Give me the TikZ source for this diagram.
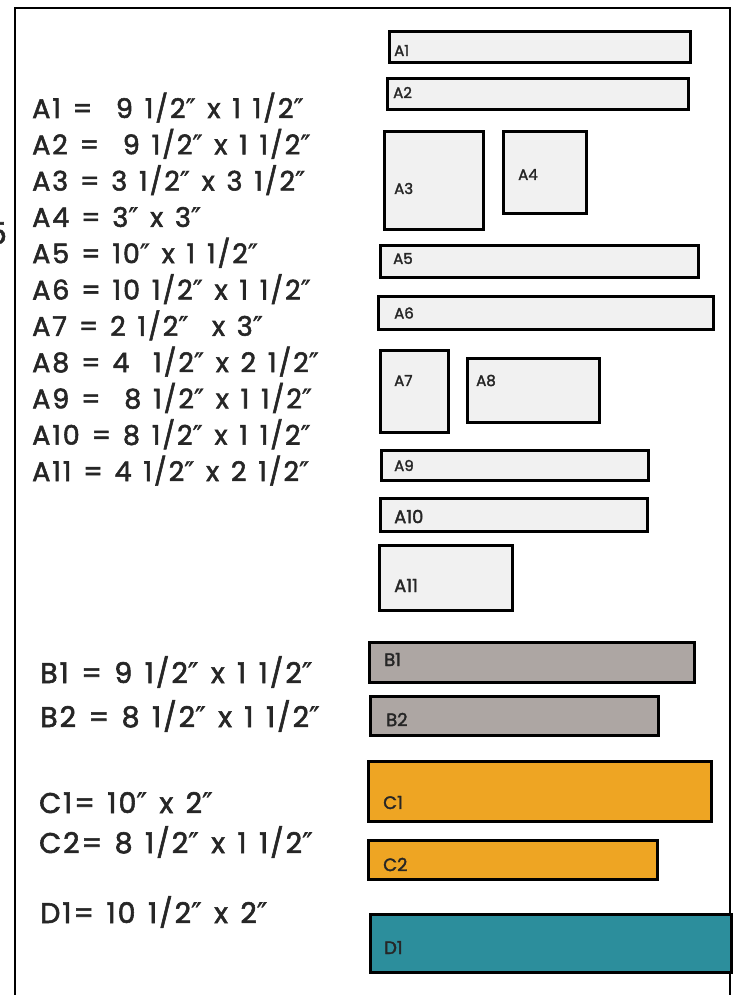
\documentclass[tikz,border=0pt]{standalone}
\usepackage{fontspec}
\setmainfont{Poppins}
\newfontfamily\specfont{Poppins}[LetterSpace=7, WordSpace=1.3, FakeBold=2]
\newfontfamily\tagfont{Poppins}[FakeBold=2]
\newfontfamily\primefont{DejaVu Sans}[FakeBold=1]
\newcommand\inch{{\primefont ″}}
\usetikzlibrary{positioning}

\definecolor{paleA}{HTML}{F1F1F1}
\definecolor{greyB}{HTML}{ADA6A3}
\definecolor{orangeC}{HTML}{EEA523}
\definecolor{tealD}{HTML}{2C8E9C}

\begin{document}
\begin{tikzpicture}[
    x=1pt, y=-1pt,
    node distance=6pt,
    piece/.style={draw, line width=3pt, inner sep=0pt, anchor=north west},
    pieceA/.style={piece, fill=paleA},
    pieceB/.style={piece, fill=greyB},
    pieceC/.style={piece, fill=orangeC},
    pieceD/.style={piece, fill=tealD},
    tag/.style={inner sep=0pt, font=\tagfont\fontsize{15}{15}\selectfont, text=black!85},
    bigtag/.style={tag, font=\tagfont\fontsize{18}{18}\selectfont},
    spec/.style={inner sep=0pt, anchor=base west, font=\specfont\fontsize{27}{27}\selectfont, text=black!85},
    bigspec/.style={spec, font=\specfont\fontsize{28.5}{28.5}\selectfont},
]
\useasboundingbox (0,0) rectangle (736,995);

% --- frame ---
\draw[line width=2pt] (15,995) -- (15,8) -- (730,8) -- (730,995);
\node[spec, anchor=base east, font=\specfont\fontsize{30}{30}\selectfont] (cut) at (7,244) {5};

% --- A list ---
\node[spec] (a1-spec)  at (32,118)   {A1 =\ \ 9 1/2\inch{} x 1 1/2\inch};
\node[spec] (a2-spec)  at (32,154.3) {A2 =\ \ 9 1/2\inch{} x 1 1/2\inch};
\node[spec] (a3-spec)  at (32,190.6) {A3 = 3 1/2\inch{} x 3 1/2\inch};
\node[spec] (a4-spec)  at (32,226.9) {A4 = 3\inch{} x 3\inch};
\node[spec] (a5-spec)  at (32,263.2) {A5 = 10\inch{} x 1 1/2\inch};
\node[spec] (a6-spec)  at (32,299.5) {A6 = 10 1/2\inch{} x 1 1/2\inch};
\node[spec] (a7-spec)  at (32,335.8) {A7 = 2 1/2\inch\ \ x 3\inch};
\node[spec] (a8-spec)  at (32,372.1) {A8 = 4\ \ 1/2\inch{} x 2 1/2\inch};
\node[spec] (a9-spec)  at (32,408.4) {A9 =\ \ 8 1/2\inch{} x 1 1/2\inch};
\node[spec] (a10-spec) at (32,444.7) {A10 = 8 1/2\inch{} x 1 1/2\inch};
\node[spec] (a11-spec) at (32,481)   {A11 = 4 1/2\inch{} x 2 1/2\inch};

% --- B, C, D list ---
\node[bigspec] (b1-spec) at (40,683) {B1 = 9 1/2\inch{} x 1 1/2\inch};
\node[bigspec] (b2-spec) at (40,727) {B2 = 8 1/2\inch{} x 1 1/2\inch};
\node[bigspec] (c1-spec) at (39,813) {C1= 10\inch{} x 2\inch};
\node[bigspec] (c2-spec) at (39,853) {C2= 8 1/2\inch{} x 1 1/2\inch};
\node[bigspec] (d1-spec) at (40,923) {D1= 10 1/2\inch{} x 2\inch};

% --- A pieces ---
\node[pieceA, minimum width=301, minimum height=31] (a1)  at (388,30)  {};
\node[pieceA, minimum width=301, minimum height=31] (a2)  at (386,77)  {};
\node[pieceA, minimum width=99,  minimum height=98] (a3)  at (383,130) {};
\node[pieceA, minimum width=83,  minimum height=82] (a4)  at (502,130) {};
\node[pieceA, minimum width=318, minimum height=32] (a5)  at (379,244) {};
\node[pieceA, minimum width=335, minimum height=33] (a6)  at (377,295) {};
\node[pieceA, minimum width=68,  minimum height=82] (a7)  at (379,349) {};
\node[pieceA, minimum width=132, minimum height=64] (a8)  at (466,357) {};
\node[pieceA, minimum width=267, minimum height=30] (a9)  at (380,449) {};
\node[pieceA, minimum width=267, minimum height=33] (a10) at (379,497) {};
\node[pieceA, minimum width=133, minimum height=65] (a11) at (378,544) {};

\node[tag, right=6pt of a1.west, yshift=-3.5pt]  (a1-tag)  {A1};
\node[tag, right=7pt of a2.west, yshift=1.5pt]   (a2-tag)  {A2};
\node[tag, right=11pt of a3.west, yshift=-8pt]   (a3-tag)  {A3};
\node[tag, right=16pt of a4.west, yshift=-2pt]   (a4-tag)  {A4};
\node[tag, right=14pt of a5.west, yshift=3pt]    (a5-tag)  {A5};
\node[tag, right=17pt of a6.west]                (a6-tag)  {A6};
\node[tag, right=15pt of a7.west, yshift=11pt]   (a7-tag)  {A7};
\node[tag, right=10pt of a8.west, yshift=10pt]   (a8-tag)  {A8};
\node[tag, right=14pt of a9.west]                (a9-tag)  {A9};
\node[bigtag, right=15pt of a10.west, yshift=-1.5pt] (a10-tag) {A10};
\node[bigtag, right=16pt of a11.west, yshift=-7.5pt] (a11-tag) {A11};

% --- B, C, D pieces ---
\node[pieceB, minimum width=325, minimum height=40] (b1) at (368,641) {};
\node[pieceB, minimum width=288, minimum height=39] (b2) at (369,695) {};
\node[pieceC, minimum width=343, minimum height=60] (c1) at (367,760) {};
\node[pieceC, minimum width=289, minimum height=39] (c2) at (367,839) {};
\node[pieceD, minimum width=361, minimum height=58] (d1) at (369,913) {};

\node[bigtag, right=16pt of b1.west, yshift=3pt]    (b1-tag) {B1};
\node[bigtag, right=17pt of b2.west, yshift=-3.5pt] (b2-tag) {B2};
\node[bigtag, right=16pt of c1.west, yshift=-11pt]  (c1-tag) {C1};
\node[bigtag, right=16pt of c2.west, yshift=-4.5pt] (c2-tag) {C2};
\node[bigtag, right=15pt of d1.west, yshift=-4pt]   (d1-tag) {D1};

\end{tikzpicture}
\end{document}
